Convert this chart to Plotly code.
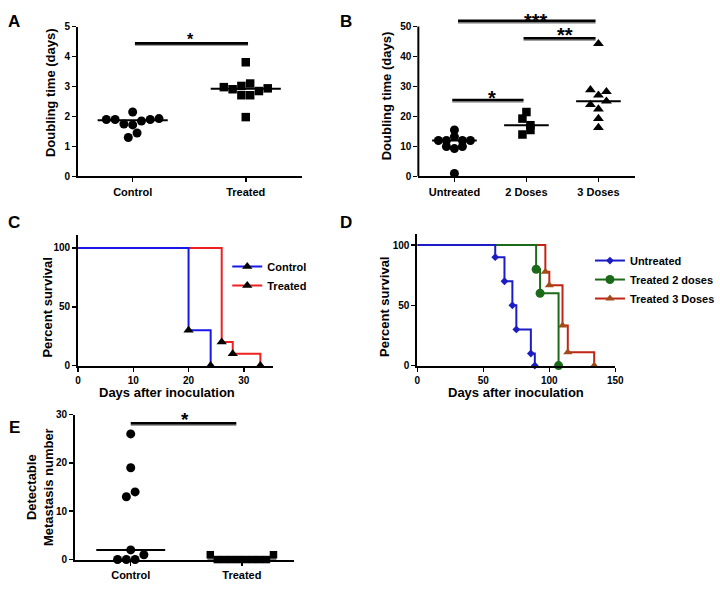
import numpy as np
import plotly.graph_objects as go

W, H = 720, 592
FONT = "Liberation Sans, Arial, Helvetica, sans-serif"

# ---------------- data ----------------
a_categories = ["Control", "Treated"]
a_control = [1.9, 1.9, 1.75, 2.15, 1.72, 1.85, 1.9, 1.93, 1.3, 1.45]
a_treated = [3.81, 2.98, 2.91, 2.71, 2.71, 2.85, 2.94, 3.02, 3.1, 1.98]
a_yticks = [0, 1, 2, 3, 4, 5]

b_categories = ["Untreated", "2 Doses", "3 Doses"]
b_untreated = [12.0, 12.0, 13.3, 15.5, 10.0, 9.3, 10.0, 12.0, 12.0, 1.0]
b_two_doses = [19.3, 21.5, 17.1, 14.0, 15.5]
b_three_doses = [44.3, 28.9, 27.1, 28.3, 24.0, 22.5, 25.1, 19.3, 16.3]
b_yticks = [0, 10, 20, 30, 40, 50]

c_groups = ["Control", "Treated"]
c_control_days = [0, 20, 24]
c_control_surv = [100, 30, 0]
c_treated_days = [0, 26, 28, 33]
c_treated_surv = [100, 20, 10, 0]
c_xticks = [0, 10, 20, 30]
c_yticks = [0, 50, 100]

d_groups = ["Untreated", "Treated 2 doses", "Treated 3 Doses"]
d_untreated_days = [0, 59, 66, 72, 75, 86, 89]
d_untreated_surv = [100, 90, 70, 50, 30, 10, 0]
d_two_days = [0, 90, 93, 107]
d_two_surv = [100, 80, 60, 0]
d_three_days = [0, 97, 100, 110, 114, 134]
d_three_surv = [100, 77.8, 66.7, 33.3, 11.1, 0]
d_xticks = [0, 50, 100, 150]
d_yticks = [0, 50, 100]

e_categories = ["Control", "Treated"]
e_control = [26, 19, 13, 14, 2, 0, 0, 0, 1]
e_treated = [1, 0, 0, 0, 0, 0, 0, 0, 0, 1]
e_yticks = [0, 10, 20, 30]

# significance brackets: (x_from, x_to, y, label)
a_sig = [(0.02, 1.02, 4.44, "*")]
b_sig = [(0.05, 1.96, 51.9, "***"), (0.96, 1.96, 46.1, "**"), (-0.03, 0.96, 25.5, "*")]
e_sig = [(0.0, 0.95, 28.2, "*")]

# ---------------- geometry (pixels) ----------------
GEOM = {
    "A": dict(x_px=(77, 307), y_px=(174, 21), yr=(0, 5), cat0=133, step=116),
    "B": dict(x_px=(426, 648), y_px=(174, 5), yr=(0, 50 * 169 / 153), cat0=463, step=73.85),
    "C": dict(x_px=(77, 277), y_px=(367, 234), yr=(0, 110.8), xr=(0, 35.3)),
    "D": dict(x_px=(425, 628), y_px=(367, 233), yr=(0, 109), xr=(0, 150)),
    "E": dict(x_px=(74, 298), y_px=(565, 417), yr=(0, 30), cat0=131, step=114),
}


def xdom(g):
    return [g["x_px"][0] / W, g["x_px"][1] / W]


def ydom(g):
    return [1 - g["y_px"][0] / H, 1 - g["y_px"][1] / H]


def cat_range(g):
    return [(g["x_px"][0] - g["cat0"]) / g["step"], (g["x_px"][1] - g["cat0"]) / g["step"]]


def px_per_y(g):
    return (g["y_px"][0] - g["y_px"][1]) / (g["yr"][1] - g["yr"][0])


def swarm(vals, g, d):
    """Row-based dot-plot layout (Prism style): offsets in category units."""
    vals = np.asarray(vals, dtype=float)
    pyu = px_per_y(g)
    order = np.argsort(vals, kind="stable")
    rows = []
    for i in order:
        if rows and (vals[i] - vals[rows[-1][0]]) * pyu < d:
            rows[-1].append(i)
        else:
            rows.append([i])
    off = np.zeros(len(vals))
    for r in rows:
        r = sorted(r)
        n = len(r)
        for k, i in enumerate(r):
            off[i] = (k - (n - 1) / 2) * d / g["step"]
    return off


fig = go.Figure()


def dot_group(vals, idx, g, d, symbol, size, xa, ya):
    off = swarm(vals, g, d)
    fig.add_trace(go.Scatter(
        x=idx + off, y=vals, mode="markers", xaxis=xa, yaxis=ya,
        marker=dict(symbol=symbol, size=size, color="black", line=dict(width=0)),
        cliponaxis=False, showlegend=False, hoverinfo="y"))
    med = float(np.median(vals))
    fig.add_trace(go.Scatter(
        x=[idx - 0.31, idx + 0.31], y=[med, med], mode="lines", xaxis=xa, yaxis=ya,
        line=dict(color="black", width=2), showlegend=False, hoverinfo="skip"))


# Panel A
dot_group(a_control, 0, GEOM["A"], 9, "circle", 9, "x", "y")
dot_group(a_treated, 1, GEOM["A"], 9, "square", 8.5, "x", "y")
# Panel B
dot_group(b_untreated, 0, GEOM["B"], 8.2, "circle", 9, "x2", "y2")
dot_group(b_two_doses, 1, GEOM["B"], 8.2, "square", 8.5, "x2", "y2")
dot_group(b_three_doses, 2, GEOM["B"], 8.2, "triangle-up", 9.5, "x2", "y2")
# Panel E
dot_group(e_control, 0, GEOM["E"], 9, "circle", 9, "x5", "y5")
dot_group(e_treated, 1, GEOM["E"], 7.2, "square", 7.5, "x5", "y5")


def surv_group(days, surv, name, lcolor, mcolor, symbol, size, xa, ya):
    fig.add_trace(go.Scatter(
        x=days, y=surv, mode="lines", xaxis=xa, yaxis=ya,
        line=dict(shape="hv", color=lcolor, width=2), showlegend=False, hoverinfo="skip"))
    fig.add_trace(go.Scatter(
        x=days[1:], y=surv[1:], mode="markers", xaxis=xa, yaxis=ya,
        marker=dict(symbol=symbol, size=size, color=mcolor, line=dict(width=0)),
        cliponaxis=False, showlegend=False, name=name))


def legend_entry(name, lcolor, mcolor, symbol, size, xa, ya, legend):
    fig.add_trace(go.Scatter(
        x=[None], y=[None], mode="lines+markers", xaxis=xa, yaxis=ya, name=name,
        line=dict(color=lcolor, width=2),
        marker=dict(symbol=symbol, size=size, color=mcolor, line=dict(width=0)),
        legend=legend, showlegend=True))


BLUE_C, RED_C = "#1818e6", "#ee2020"
surv_group(c_treated_days, c_treated_surv, c_groups[1], RED_C, "black", "triangle-up", 9, "x3", "y3")
surv_group(c_control_days, c_control_surv, c_groups[0], BLUE_C, "black", "triangle-up", 9, "x3", "y3")
legend_entry(c_groups[0], BLUE_C, "black", "triangle-up", 9, "x3", "y3", "legend")
legend_entry(c_groups[1], RED_C, "black", "triangle-up", 9, "x3", "y3", "legend")

BLUE_D, GREEN_D, RED_D, BROWN_D = "#1c1cc4", "#1a6a1a", "#c02414", "#a24a18"
surv_group(d_three_days, d_three_surv, d_groups[2], RED_D, BROWN_D, "triangle-up", 8, "x4", "y4")
surv_group(d_two_days, d_two_surv, d_groups[1], GREEN_D, GREEN_D, "circle", 9, "x4", "y4")
surv_group(d_untreated_days, d_untreated_surv, d_groups[0], BLUE_D, BLUE_D, "diamond", 6, "x4", "y4")
legend_entry(d_groups[0], BLUE_D, BLUE_D, "diamond", 6, "x4", "y4", "legend2")
legend_entry(d_groups[1], GREEN_D, GREEN_D, "circle", 9, "x4", "y4", "legend2")
legend_entry(d_groups[2], RED_D, BROWN_D, "triangle-up", 8, "x4", "y4", "legend2")

# ---------------- axes ----------------
TICKFONT = dict(family=FONT, size=10, color="black", weight="bold")
CATFONT = dict(family=FONT, size=11, color="black", weight="bold")


def axis_style(**kw):
    base = dict(showline=True, linecolor="black", linewidth=2, ticks="outside",
                ticklen=4, tickwidth=1.5, tickcolor="black", showgrid=False,
                zeroline=False, tickfont=TICKFONT, fixedrange=True, mirror=False)
    base.update(kw)
    return base


layout = dict(
    width=W, height=H, margin=dict(l=0, r=0, t=0, b=0),
    paper_bgcolor="white", plot_bgcolor="rgba(0,0,0,0)",
    font=dict(family=FONT, color="black"),
    hovermode=False,
)

gA, gB, gC, gD, gE = (GEOM[k] for k in "ABCDE")
layout["xaxis"] = axis_style(domain=xdom(gA), range=cat_range(gA), anchor="y",
                             tickvals=list(range(len(a_categories))), ticktext=a_categories, tickfont=CATFONT)
layout["yaxis"] = axis_style(domain=ydom(gA), range=list(gA["yr"]), anchor="x", tickvals=a_yticks)
layout["xaxis2"] = axis_style(domain=xdom(gB), range=cat_range(gB), anchor="y2",
                              tickvals=list(range(len(b_categories))), ticktext=b_categories, tickfont=CATFONT)
layout["yaxis2"] = axis_style(domain=ydom(gB), range=list(gB["yr"]), anchor="x2", tickvals=b_yticks, showline=False)
layout["xaxis3"] = axis_style(domain=xdom(gC), range=list(gC["xr"]), anchor="y3", tickvals=c_xticks)
layout["yaxis3"] = axis_style(domain=ydom(gC), range=list(gC["yr"]), anchor="x3", tickvals=c_yticks)
layout["xaxis4"] = axis_style(domain=xdom(gD), range=list(gD["xr"]), anchor="y4", tickvals=d_xticks)
layout["yaxis4"] = axis_style(domain=ydom(gD), range=list(gD["yr"]), anchor="x4", tickvals=d_yticks)
layout["xaxis5"] = axis_style(domain=xdom(gE), range=cat_range(gE), anchor="y5",
                              tickvals=list(range(len(e_categories))), ticktext=e_categories, tickfont=CATFONT)
layout["yaxis5"] = axis_style(domain=ydom(gE), range=list(gE["yr"]), anchor="x5", tickvals=e_yticks)

LEGFONT = dict(family=FONT, size=11, color="black", weight="bold")
layout["legend"] = dict(x=230 / W, y=1 - 251 / H, xanchor="left", yanchor="top",
                        font=LEGFONT, bgcolor="rgba(0,0,0,0)", tracegroupgap=0)
layout["legend2"] = dict(x=602 / W, y=1 - 245 / H, xanchor="left", yanchor="top",
                         font=LEGFONT, bgcolor="rgba(0,0,0,0)", tracegroupgap=0)

fig.update_layout(**layout)

# ---------------- shapes: significance bars, B y-axis line ----------------
shapes = []


def sig_shapes(sig, g, xa, ya):
    shadow = 1.8 / px_per_y(g)
    for x0, x1, y, _ in sig:
        shapes.append(dict(type="line", xref=xa, yref=ya, x0=x0, x1=x1, y0=y - shadow, y1=y - shadow,
                           line=dict(color="#a0a0a0", width=2)))
        shapes.append(dict(type="line", xref=xa, yref=ya, x0=x0, x1=x1, y0=y, y1=y,
                           line=dict(color="black", width=2.6)))


sig_shapes(a_sig, gA, "x", "y")
sig_shapes(b_sig, gB, "x2", "y2")
sig_shapes(e_sig, gE, "x5", "y5")
shapes.append(dict(type="line", xref="x2 domain", yref="y2", x0=0, x1=0, y0=0, y1=max(b_yticks),
                   line=dict(color="black", width=2)))
fig.update_layout(shapes=shapes)

# ---------------- annotations ----------------
ann = []


def txt(text, xpx, ypx, size, angle=0, **kw):
    d = dict(text=text, x=xpx / W, y=1 - ypx / H, xref="paper", yref="paper",
             showarrow=False, xanchor="center", yanchor="middle", textangle=angle,
             font=dict(family=FONT, size=size, color="black", weight="bold"))
    d.update(kw)
    ann.append(d)


# panel letters
for letter, (lx, ly) in {"A": (11, 16), "B": (352, 16), "C": (11, 221), "D": (352, 221), "E": (12, 430)}.items():
    txt(letter, lx, ly, 17)

# axis titles
txt("Doubling time (days)", 48, 88, 13, -90)
txt("Doubling time (days)", 393, 92, 13, -90)
txt("Percent survival", 46, 308, 13, -90)
txt("Days after inoculation", 168, 395, 13)
txt("Percent survival", 392, 307, 13, -90)
txt("Days after inoculation", 526, 395, 13)
txt("Detectable<br>Metastasis number", 38, 491, 13, -90)


def star_ann(label, x, y, xa, ya, size):
    ann.append(dict(text=label, x=x, y=y, xref=xa, yref=ya, showarrow=False,
                    xanchor="center", yanchor="middle", yshift=-4,
                    font=dict(family=FONT, size=size, color="black", weight="bold")))


star_ann(a_sig[0][3], 0.51, 4.71, "x", "y", 16)
star_ann(b_sig[0][3], 1.13, 53.3, "x2", "y2", 20)
star_ann(b_sig[1][3], 1.53, 48.5, "x2", "y2", 20)
star_ann(b_sig[2][3], 0.52, 27.5, "x2", "y2", 20)
star_ann(e_sig[0][3], 0.49, 29.8, "x5", "y5", 19)

fig.update_layout(annotations=ann)

fig.write_html("out.html", config={"displayModeBar": False, "staticPlot": True},
               post_script="document.body.style.margin='0';document.body.style.overflow='hidden';")
